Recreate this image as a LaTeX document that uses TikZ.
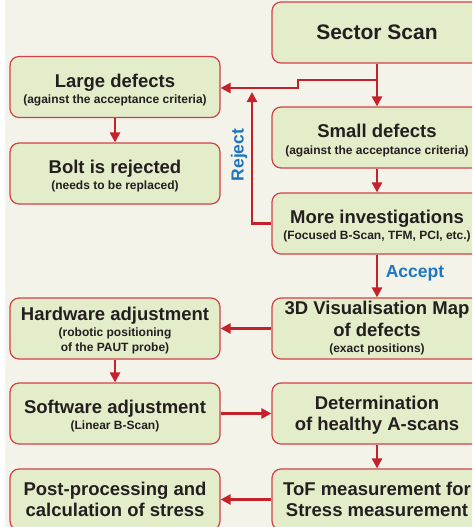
\documentclass[tikz,border=0pt]{standalone}
\usepackage{fontspec}
\setmainfont{Liberation Sans}
\usetikzlibrary{arrows.meta}
\definecolor{bg}{HTML}{F4F3EA}
\definecolor{boxfill}{HTML}{E3EDC9}
\definecolor{boxline}{HTML}{D2404A}
\definecolor{arr}{HTML}{C4212B}
\definecolor{txt}{HTML}{231F20}
\definecolor{lblblue}{HTML}{1E76BE}
\newcommand\subtxt{\fontsize{12}{14}\selectfont}
\newcommand\topstrut{\rule{0pt}{19pt}}
\newcommand\topstrutb{\rule{0pt}{17pt}}
\begin{document}
\begin{tikzpicture}[x=1pt,y=-1pt,
  stepbox/.style={draw=boxline, line width=1.2pt, fill=boxfill, rounded corners=9pt,
    minimum width=210pt, minimum height=61pt, inner sep=0pt, align=center, text=txt,
    font=\bfseries\fontsize{18.5}{21}\selectfont},
  conn/.style={draw=arr, line width=2.8pt, -{Triangle[length=10pt,width=10pt]}},
  lbl/.style={text=lblblue, font=\bfseries\fontsize{17.5}{20}\selectfont, inner sep=0pt}]
\useasboundingbox (0,0) rectangle (472,527);
\clip (0,0) rectangle (472,527);
\fill[white] (0,0) rectangle (472,527);
\fill[bg] (5,0) rectangle (472,527);

\node[stepbox, minimum height=61pt, font=\bfseries\fontsize{21}{24}\selectfont] (sector) at (377,32.5) {Sector Scan};
\node[stepbox] (large) at (115,87) {\topstrut Large defects\\[-5pt]{\subtxt (against the acceptance criteria)}};
\node[stepbox] (bolt) at (115,173.5) {\topstrut Bolt is rejected\\[-5pt]{\subtxt (needs to be replaced)}};
\node[stepbox] (small) at (377,137.5) {\topstrut Small defects\\[-4pt]{\subtxt (against the acceptance criteria)}};
\node[stepbox] (more) at (377,223.5) {\topstrut More investigations\\[-5pt]{\subtxt (Focused B-Scan, TFM, PCI, etc.)}};
\node[stepbox] (vis) at (377,328.5) {3D Visualisation Map\\[1pt]of defects\\[-5pt]{\subtxt (exact positions)}};
\node[stepbox] (hw) at (115,328.5) {\topstrutb Hardware adjustment\\[-5pt]{\subtxt (robotic positioning}\\[-6pt]{\subtxt of the PAUT probe)}};
\node[stepbox] (sw) at (115,413.5) {\topstrut Software adjustment\\[-5pt]{\subtxt (Linear B-Scan)}};
\node[stepbox] (det) at (377,413.5) {\topstrutb Determination\\of healthy A-scans};
\node[stepbox] (tof) at (377,499.5) {ToF measurement for\\Stress measurement};
\node[stepbox] (post) at (115,499.5) {Post-processing and\\calculation of stress};

\coordinate (j1) at (377,80);
\coordinate (j2) at (298,80);
\coordinate (j3) at (298,88);
\coordinate (r1) at (252,92);

\draw[conn] (sector.south) -- (small.north);
\draw[conn] (j1) -- (j2) -- (j3) -- (j3 -| large.east);
\draw[conn] (more.west) -| (r1);
\draw[conn] (large.south) -- (bolt.north);
\draw[conn] (small.south) -- (more.north);
\draw[conn] (more.south) -- (vis.north);
\draw[conn] (vis.west) -- (hw.east);
\draw[conn] (hw.south) -- (sw.north);
\draw[conn] (sw.east) -- (det.west);
\draw[conn] (det.south) -- (tof.north);
\draw[conn] (tof.west) -- (post.east);

\node[lbl, rotate=90] (rej) at (239,155) {Reject};
\node[lbl] (acc) at (415,273) {Accept};
\end{tikzpicture}
\end{document}
